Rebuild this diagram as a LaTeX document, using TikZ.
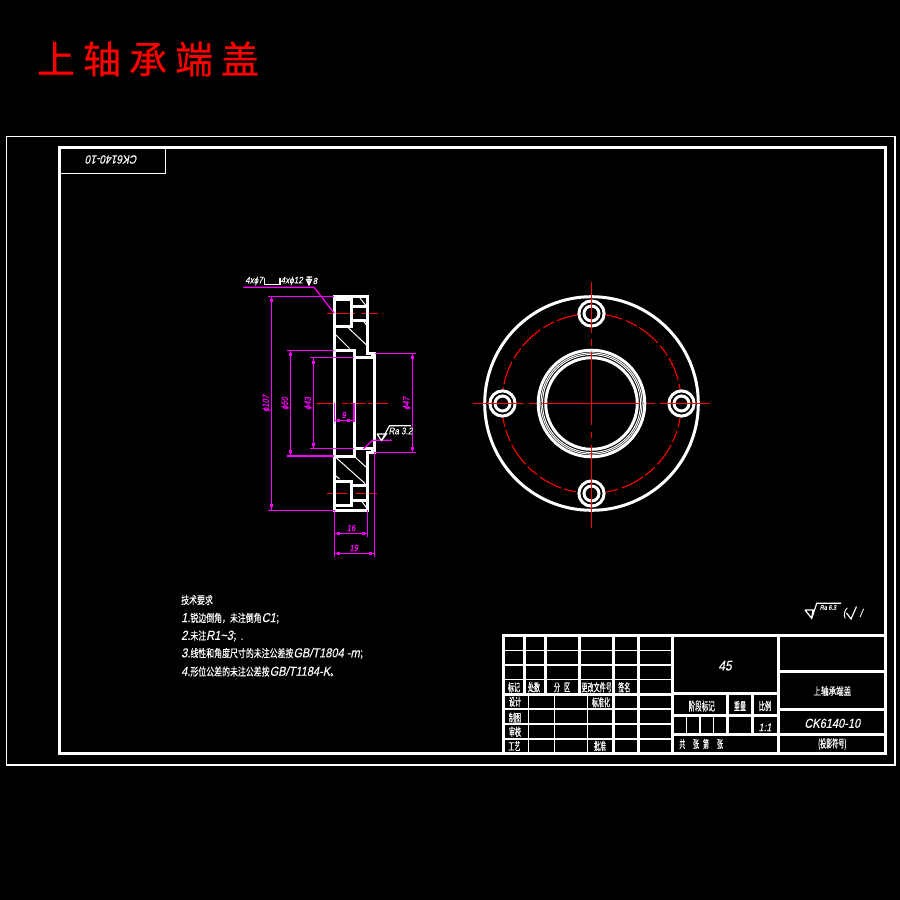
\documentclass[tikz,border=0pt]{standalone}
\usepackage{fontspec}
\setmainfont{Liberation Sans}
\newfontfamily\cjk[FakeStretch=0.72,FakeBold=0.4]{Noto Sans CJK SC}
\newfontfamily\cjkn[FakeStretch=0.55,FakeBold=0.5]{Noto Sans CJK SC}
\newfontfamily\cjkfull[FakeBold=0.6]{Noto Sans CJK SC}
\newfontfamily\cad[FakeStretch=0.85,FakeSlant=0.2,FakeBold=0.25]{Liberation Sans}
\definecolor{mag}{RGB}{255,0,255}
\definecolor{redl}{RGB}{255,0,0}
\newcommand{\fs}[1]{\fontsize{#1}{#1}\selectfont}
\newcommand{\ltn}[1]{{\cad\fs{13}#1}}
\tikzset{
  heavy/.style={draw=white,line width=3pt,line cap=rect},
  light/.style={draw=white,line width=1.2pt},
  hatchline/.style={draw=white,line width=1pt},
  axis/.style={draw=redl,line width=1.1pt},
  dimline/.style={draw=mag,line width=1.2pt},
  tick/.style={fill=mag},
  lab/.style={text=white,inner sep=0pt,font=\cjkn\fs{11}},
  num/.style={text=white,inner sep=0pt,font=\cad\fs{10}},
  dimtxt/.style={text=mag,inner sep=0pt,font=\cad\fs{9}},
  note/.style={text=white,inner sep=0pt,anchor=west,font=\cjk\fs{11}},
}
\begin{document}
\begin{tikzpicture}[x=1pt,y=-1pt]
\useasboundingbox (0,0) rectangle (900,900);
\fill[black] (0,0) rectangle (900,900);
% title
\node[text=redl,inner sep=0pt,anchor=center,font=\cjkfull\fs{38}] (title) at (148,59) {上\hspace{8pt}轴\hspace{8pt}承\hspace{8pt}端\hspace{8pt}盖};
% frames
\draw[light] (6.5,136.7) rectangle (895,765);
\draw[heavy] (59.5,147.5) rectangle (885,753);
\draw[light] (59.5,173.5) -- (165.5,173.5) -- (165.5,147.5);
\node[num,rotate=180,font=\cad\fs{12}] (tag) at (112,159.5) {CK6140-10};

% ---------- section view: axes
\draw[axis] (327,313.5) -- (351,313.5) (353,313.5) -- (355,313.5) (361,313.5) -- (377.7,313.5);
\draw[axis] (317,403.5) -- (334,403.5) (342,403.5) -- (348,403.5) (350,403.5) -- (366,403.5) (368,403.5) -- (388,403.5);
\draw[axis] (327,493.5) -- (347,493.5) (351,493.5) -- (353,493.5) (356,493.5) -- (377,493.5);
% section view: outline
\draw[heavy] (334.3,296.7) -- (367.3,296.7) -- (367.3,353.5) -- (374.7,353.5) (372,356.8) -- (374.7,356.8) -- (374.7,449) -- (372,449) (374.7,452.3) -- (367.3,452.3) -- (367.3,510) -- (334.3,510) -- (334.3,296.7);
\draw[heavy] (334.3,350.7) -- (354,350.7) -- (354,456) -- (334.3,456);
\draw[heavy] (354,357) -- (374.7,357) (354,448.3) -- (374.7,448.3);
\draw[heavy] (334.3,299.5) -- (351.7,299.5) -- (351.7,326) -- (334.3,326);
\draw[heavy] (351.7,306.7) -- (367.3,306.7) (351.7,320) -- (367.3,320);
\draw[heavy] (334.3,481) -- (351.7,481) -- (351.7,505.7) -- (334.3,505.7);
\draw[heavy] (351.7,485) -- (367.3,485) (351.7,500) -- (367.3,500);
% hatching
\draw[hatchline] (360,298) -- (367,307) (363.5,321) -- (366.5,325);
\draw[hatchline] (336,335) -- (349.5,348.5) (348.5,328) -- (366.5,345);
\draw[hatchline] (336.5,458) -- (365,483.5) (355,457) -- (366.5,467.5);
\draw[hatchline] (336,476) -- (339.5,479) (361.5,501) -- (367.5,509);

% ---------- dimensions
\draw[dimline] (268.3,296.7) -- (334.3,296.7) (268.3,510.3) -- (334.3,510.3) (271.3,296.7) -- (271.3,510.3);
\draw[dimline] (287.3,350.7) -- (334.3,350.7) (287.3,456) -- (334.3,456) (290.3,350.7) -- (290.3,456);
\draw[dimline] (310,357.3) -- (354,357.3) (310,448.3) -- (354,448.3) (313.3,357.3) -- (313.3,448.3);
\draw[dimline] (374.7,353.3) -- (415.7,353.3) (374.7,452.3) -- (415.7,452.3) (412.3,353.3) -- (412.3,452.3);
\draw[dimline] (334.3,403.3) -- (334.3,422) (354,403.3) -- (354,422) (334.3,420.3) -- (354,420.3);
\draw[dimline] (334.3,510) -- (334.3,556.7) (367.3,510) -- (367.3,536.7) (334.3,533.3) -- (367.3,533.3);
\draw[dimline] (374.7,452.3) -- (374.7,556.7) (334.3,553.3) -- (374.7,553.3);
\foreach \px/\py in {271.3/300,271.3/505.7,290.3/354,290.3/451.7,313.3/362.3,313.3/444.3,412.3/357.3,412.3/448.3,338.3/420.3,348.7/420.3,338.3/533.3,363.3/533.3,338.3/553.3,370.7/553.3}
  \fill[tick] (\px-1.5,\py-1.5) rectangle (\px+1.5,\py+1.5);
\node[dimtxt,rotate=90] (d107) at (266.5,403.5) {ϕ107};
\node[dimtxt,rotate=90] (d50) at (285.5,403.5) {ϕ50};
\node[dimtxt,rotate=90] (d43) at (308.5,403.5) {ϕ43};
\node[dimtxt,rotate=90] (d47) at (407,403.5) {ϕ47};
\node[dimtxt] (d9) at (343.7,415) {9};
\node[dimtxt] (d16) at (351,528) {16};
\node[dimtxt] (d19) at (353.7,548) {19};
% hole callout
\draw[dimline] (243.3,287.3) -- (314,287.3) -- (334.3,313.3);
\node[num,font=\cad\fs{9.5}] (call1) at (254,281) {4xϕ7};
\draw[light] (264.5,278) -- (264.5,284.5) -- (280,284.5) -- (280,278);
\node[num,font=\cad\fs{9.5},anchor=west] (call2) at (280.5,281) {4xϕ12};
\draw[light] (306.5,277) -- (312,277) (309,277) -- (309,285) (306.5,279.5) -- (311.5,279.5) -- (309,285) -- cycle;
\node[num,font=\cad\fs{9}] (call3) at (315,281) {8};
% Ra 3.2
\draw[dimline] (363.3,449) -- (372.7,440.3) -- (391.7,440.3);
\draw[light] (377,434) -- (386.5,434) -- (381.5,440.5) -- (377,434) (381.5,440.5) -- (389.5,425.7) -- (411,425.7);
\node[num,font=\cad\fs{9.5}] (ra32) at (400.5,431) {Ra 3.2};

% ---------- plan view
\draw[axis,dash pattern=on 24pt off 4pt on 12pt off 3pt] (591.5,403.5) circle (89.7);
\draw[heavy,line cap=butt] (591.5,403.5) circle (106.8);
\draw[heavy,line cap=butt] (591.5,403.5) circle (53.3);
\draw[light,line width=1pt] (591.5,403.5) circle (50.6);
\draw[light,line width=1pt] (591.5,403.5) circle (49);
\draw[heavy,line cap=butt] (591.5,403.5) circle (45.8);
\foreach \hx/\hy in {591.5/313.5,591.5/493.5,502.5/403.5,681.5/403.5}{
  \draw[heavy,line cap=butt,fill=black] (\hx,\hy) circle (12.6);
  \draw[heavy,line cap=butt] (\hx,\hy) circle (7.5);
}
\draw[axis] (591.5,282) -- (591.5,332.7) (591.5,339.3) -- (591.5,345.7) (591.5,352.3) -- (591.5,425) (591.5,431.7) -- (591.5,438.3) (591.5,445) -- (591.5,528);
\draw[axis] (473.3,403.5) -- (522.7,403.5) (529.3,403.5) -- (535.7,403.5) (541.7,403.5) -- (640,403.5) (646.7,403.5) -- (655,403.5) (660,403.5) -- (710,403.5);

% ---------- notes
\node[note] (n0) at (181,600) {技术要求};
\node[note] (n1) at (181,618.3) {\ltn{1.}锐边倒角，未注倒角\ltn{C1}；};
\node[note] (n2) at (181,636) {\ltn{2.}未注\ltn{R1\textasciitilde 3}；.};
\node[note] (n3) at (181,653.5) {\ltn{3.}线性和角度尺寸的未注公差按\ltn{GB/T1804 -m}；};
\node[note] (n4) at (181,671.5) {\ltn{4.}形位公差的未注公差按\ltn{GB/T1184-K}。};

% roughness symbol
\draw[light] (805,610) -- (813,610) -- (811.7,618.3) -- (805,610) (811.7,618.3) -- (816.7,603.3) -- (841,603.3);
\node[num,font=\cad\fs{6.5}] (ra63) at (828,607.5) {Ra 6.3};
\node[num,font=\cad\fs{11}] (paren1) at (844.5,613) {(};
\draw[light] (846.5,613) -- (851,619) -- (856.5,606.5);
\node[num,font=\cad\fs{11}] (paren2) at (861,613) {/};

% ---------- title block
\draw[light] (503,650.3) -- (672.3,650.3) (503,665) -- (672.3,665);
\draw[light,line width=1.6pt] (503,679.3) -- (672.3,679.3);
\draw[light] (503,709) -- (672.3,709) (503,724) -- (672.3,724) (503,739) -- (672.3,739);
\draw[light] (528.3,694) -- (528.3,753) (554.3,694) -- (554.3,753) (587.3,694) -- (587.3,753);
\draw[light] (686.7,715) -- (686.7,734.3) (700,715) -- (700,734.3) (713.3,715) -- (713.3,734.3);
\draw[heavy] (524.3,635.5) -- (524.3,694) (545.3,635.5) -- (545.3,694) (579.3,635.5) -- (579.3,694);
\draw[heavy] (613.3,635.5) -- (613.3,753) (638.7,635.5) -- (638.7,753) (672.3,635.5) -- (672.3,753) (778.3,635.5) -- (778.3,753);
\draw[heavy] (503,694) -- (672.3,694);
\draw[heavy] (672.3,693.5) -- (778.3,693.5) (672.3,715) -- (778.3,715) (672.3,734.3) -- (885,734.3);
\draw[heavy] (727.3,693.5) -- (727.3,734.3) (752.3,693.5) -- (752.3,734.3);
\draw[heavy] (778.3,671.3) -- (885,671.3) (778.3,709.3) -- (885,709.3);
\draw[heavy] (503,753) -- (503,635.5) -- (885,635.5) -- (885,753);

\node[lab] (a1) at (514,687.3) {标记};
\node[lab] (a2) at (534,687.3) {处数};
\node[lab] (a3) at (562,687.3) {分\hspace{4pt}区};
\node[lab] (a4) at (596.7,687.3) {更改文件号};
\node[lab] (a5) at (624.3,687.3) {签名};
\node[lab] (b1) at (515,701.7) {设计};
\node[lab] (b2) at (601,702.3) {标准化};
\node[lab] (b3) at (515,717.7) {制图};
\node[lab] (b4) at (515,731.7) {审校};
\node[lab] (b5) at (514.3,746) {工艺};
\node[lab] (b6) at (600,746) {批准};
\node[lab,font=\cjkn\fs{12}] (c1) at (701.7,706) {阶段标记};
\node[lab] (c2) at (740,706) {重量};
\node[lab] (c3) at (765,706) {比例};
\node[num,font=\cad\fs{11}] (c4) at (765,727.3) {1:1};
\node[num,font=\cad\fs{14}] (c5) at (725,665.7) {45};
\node[lab,font=\cjk\fs{10.5}] (c6) at (832.3,691) {上轴承端盖};
\node[num,font=\cad\fs{13}] (c7) at (832.3,723.3) {CK6140-10};
\node[lab] (c8) at (832.3,744) {(投影符号)};
\node[lab] (d1) at (682.3,744) {共};
\node[lab] (d2) at (696,744) {张};
\node[lab] (d3) at (706,744) {第};
\node[lab] (d4) at (720,744) {张};
\end{tikzpicture}
\end{document}
